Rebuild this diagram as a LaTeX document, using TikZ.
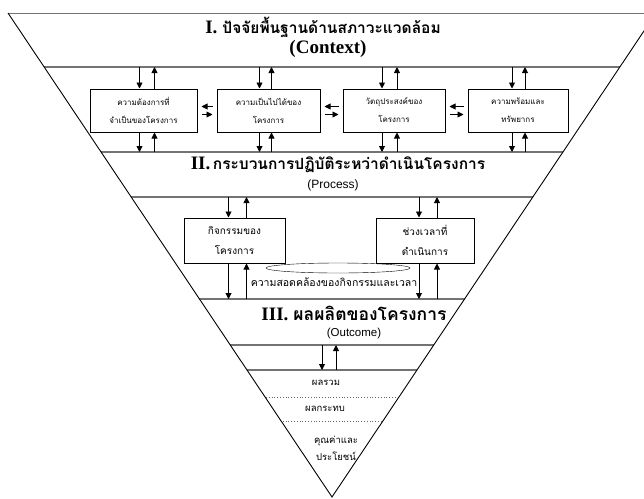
\documentclass[tikz,border=0pt]{standalone}
\usepackage{fontspec}
\setmainfont{Liberation Serif}
\setsansfont{Liberation Sans}
\newfontfamily\thaifont[Script=Thai]{Loma}
\usetikzlibrary{arrows.meta, calc, positioning}
\tikzset{
  >={Triangle[length=6pt,width=6pt]},
  side/.style={draw=black, line width=0.9pt},
  sect/.style={draw=black!55, line width=1.3pt},
  dots/.style={draw=black!60, line width=0.8pt, dotted},
  flow/.style={->, line width=0.9pt},
  box/.style={draw, line width=1pt, fill=white, align=center, inner sep=0pt,
    minimum height=43pt, font=\thaifont\fontsize{8}{18}\selectfont},
  bigbox/.style={box, minimum height=45pt, font=\thaifont\fontsize{10}{20}\selectfont},
  head/.style={inner sep=0pt, font=\bfseries\fontsize{19}{20}\selectfont},
  sub/.style={inner sep=0pt, font=\sffamily\fontsize{12}{14}\selectfont},
  note/.style={font=\thaifont\fontsize{9.5}{17}\selectfont, align=center},
}
\newcommand{\latinhead}[1]{{\bfseries\fontsize{19}{20}\selectfont #1}}
\newcommand{\thaihead}[1]{{\thaifont\bfseries\fontsize{15.5}{18}\selectfont #1}}

\begin{document}
\begin{tikzpicture}[x=1pt,y=-1pt]
  \useasboundingbox (0,0) rectangle (644,498);
  \clip (0,0) rectangle (644,498);

  % levels of the funnel
  \coordinate (lA) at (0,67);
  \coordinate (lB) at (0,152);
  \coordinate (lC) at (0,197);
  \coordinate (lD) at (0,299);
  \coordinate (lE) at (0,345);
  \coordinate (lF) at (0,370);
  \begin{scope}
    \clip (8,13) -- (332,497) -- (656,13) -- cycle;
    \draw[sect] (0,13) -- (644,13);
    \foreach \y in {67,152,197,299,345,370}
      \draw[sect] (0,\y) -- (644,\y);
    \draw[dots] (0,397) -- (644,397);
    \draw[dots] (0,421) -- (644,421);
  \end{scope}
  \draw[side] (8,13) -- (332,497) -- (656,13);

  % I. context
  \node[inner sep=0pt] (t1) at (323,27) {\latinhead{I.}\ \ \thaihead{ปัจจัยพื้นฐานด้านสภาวะแวดล้อม}};
  \node[head] (t1b) at (328,49) {(Context)};

  \node[box, minimum width=107pt] (b1) at (143.5,110.5) {ความต้องการที่\\จำเป็นของโครงการ};
  \node[box, minimum width=103pt] (b2) at (268.5,110.5) {ความเป็นไปได้ของ\\โครงการ};
  \node[box, minimum width=102pt] (b3) at (394,110.5) {วัตถุประสงค์ของ\\โครงการ};
  \node[box, minimum width=100pt] (b4) at (518,110.5) {ความพร้อมและ\\ทรัพยากร};

  \foreach \b/\l/\r in {b1/-4/11, b2/-9/3, b3/-12/3, b4/-6/7}{
    \draw[flow] ($(\b.north |- lA)+(\l,0)$) -- ($(\b.north)+(\l,0)$);
    \draw[flow] ($(\b.north)+(\r,0)$) -- ($(\b.north |- lA)+(\r,0)$);
    \draw[flow] ($(\b.south)+(\l,0)$) -- ($(\b.south |- lB)+(\l,0)$);
    \draw[flow] ($(\b.south |- lB)+(\r,0)$) -- ($(\b.south)+(\r,0)$);
  }
  \foreach \a/\b in {b1/b2, b2/b3, b3/b4}{
    \draw[flow] ($(\b.west)+(-4,-4)$) -- ($(\a.east)+(4,-4)$);
    \draw[flow] ($(\a.east)+(4,4)$) -- ($(\b.west)+(-4,4)$);
  }

  % II. process
  \node[inner sep=0pt] (t2) at (338,165) {\latinhead{II.}\ \thaihead{กระบวนการปฏิบัติระหว่าดำเนินโครงการ}};
  \node[sub] (t2b) at (333,185) {(Process)};

  \draw (338,268) ellipse [x radius=72, y radius=5];
  \node[bigbox, minimum width=101pt] (b5) at (234.5,240.5) {กิจกรรมของ\\โครงการ};
  \node[bigbox, minimum width=98pt] (b6) at (425,240.5) {ช่วงเวลาที่\\ดำเนินการ};
  \node[note, font=\thaifont\fontsize{10.5}{17}\selectfont] (fit) at (334,282) {ความสอดคล้องของกิจกรรมและเวลา};

  \foreach \b in {b5,b6}{
    \draw[flow] ($(\b.north |- lC)+(-6,0)$) -- ($(\b.north)+(-6,0)$);
    \draw[flow] ($(\b.north)+(12,0)$) -- ($(\b.north |- lC)+(12,0)$);
    \draw[flow] ($(\b.south)+(-6,0)$) -- ($(\b.south |- lD)+(-6,0)$);
    \draw[flow] ($(\b.south |- lD)+(12,0)$) -- ($(\b.south)+(12,0)$);
  }

  % III. outcome
  \node[inner sep=0pt] (t3) at (354,313) {\latinhead{III.}\ \ {\thaifont\bfseries\fontsize{17.5}{18}\selectfont ผลผลิตของโครงการ}};
  \node[sub, font=\sffamily\fontsize{11.5}{14}\selectfont] (t3b) at (354,334) {(Outcome)};

  \coordinate (o1) at (322,345);
  \coordinate (o2) at (336,345);
  \draw[flow] (o1) -- (o1 |- lF);
  \draw[flow] (o2 |- lF) -- (o2);

  \node[note] (r1) at (326,383) {ผลรวม};
  \node[note] (r2) at (325,409) {ผลกระทบ};
  \node[note] (r3) at (336,448) {คุณค่าและ\\ประโยชน์};
\end{tikzpicture}
\end{document}
